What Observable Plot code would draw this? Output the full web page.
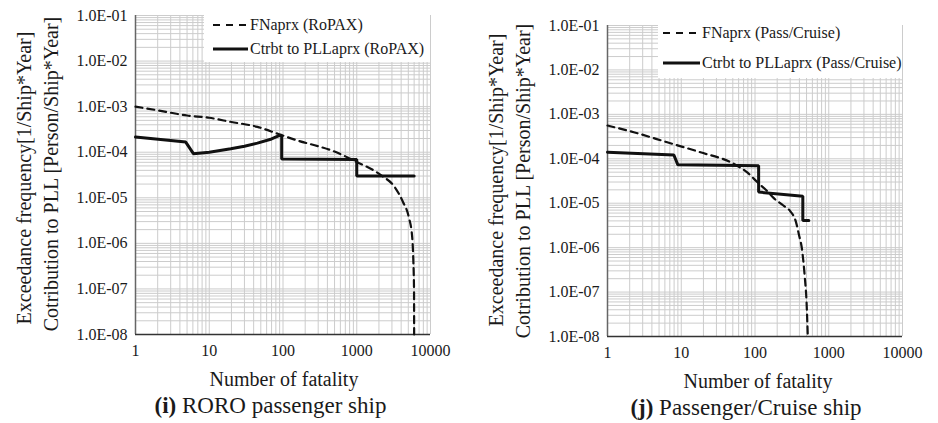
<!DOCTYPE html>
<html><head><meta charset="utf-8">
<script src="https://cdn.jsdelivr.net/npm/d3@7"></script>
<script src="https://cdn.jsdelivr.net/npm/@observablehq/plot@0.6"></script>
<style>
body{margin:0;background:#fff;}
#wrap{position:relative;width:938px;height:423px;}
.panel{position:absolute;top:0;}
</style></head><body><div id="wrap"></div>
<script>
// ---- tick values / labels ----
const xTicks = [1, 10, 100, 1000, 10000];
const xTickLabels = ["1", "10", "100", "1000", "10000"];
const yTicks = [1e-8, 1e-7, 1e-6, 1e-5, 1e-4, 1e-3, 1e-2, 1e-1];
const yTickLabels = ["1.0E-08", "1.0E-07", "1.0E-06", "1.0E-05", "1.0E-04", "1.0E-03", "1.0E-02", "1.0E-01"];

// ---- (i) RORO passenger ship ----
const roFnX = [1, 2, 5, 10, 20, 45, 85, 158, 300, 450, 985, 2150, 3270, 4250, 5070, 5640, 5850, 5980, 6000];
const roFnY = [1.0e-3, 8.3e-4, 6.4e-4, 5.7e-4, 4.6e-4, 3.6e-4, 2.54e-4, 1.8e-4, 1.35e-4, 1.1e-4, 6.2e-5, 3.1e-5, 1.72e-5, 8.0e-6, 3.8e-6, 1.4e-6, 4.2e-7, 9.3e-8, 1e-8];
const roPlX = [1, 4.8, 6.1, 10, 19.6, 30, 45, 70, 90, 96, 96, 1000, 1000, 6000];
const roPlY = [2.15e-4, 1.67e-4, 9.3e-5, 1.0e-4, 1.19e-4, 1.35e-4, 1.58e-4, 1.95e-4, 2.33e-4, 2.35e-4, 7.1e-5, 6.9e-5, 3.0e-5, 3.0e-5];

// ---- (j) Passenger/Cruise ship ----
const pcFnX = [1, 2.27, 6.45, 18.2, 51.6, 80, 107, 150, 180, 240, 303, 354, 393, 436, 474, 499, 520];
const pcFnY = [5.6e-4, 3.96e-4, 2.35e-4, 1.4e-4, 7.7e-5, 4.8e-5, 3.0e-5, 1.8e-5, 1.3e-5, 9.0e-6, 6.5e-6, 4.1e-6, 2.0e-6, 8.6e-7, 2.1e-7, 6.4e-8, 1e-8];
const pcPlX = [1, 7.94, 9.0, 112, 112, 445, 445, 537];
const pcPlY = [1.4e-4, 1.22e-4, 7.3e-5, 7.0e-5, 1.78e-5, 1.43e-5, 4.1e-6, 4.1e-6];

const legendRo = ["FNaprx (RoPAX)", "Ctrbt to PLLaprx (RoPAX)"];
const legendPc = ["FNaprx (Pass/Cruise)", "Ctrbt to PLLaprx (Pass/Cruise)"];
const yTitle = ["Exceedance frequency[1/Ship*Year]", "Cotribution to PLL [Person/Ship*Year]"];
const xTitle = "Number of fatality";

const FONT = '"Liberation Serif", "Times New Roman", serif';
const TXT = "#1a1a1a";

// log grid positions (1..9 per decade)
const xGrid = xTicks.slice(0, -1).flatMap(d => d3.range(1, 10).map(m => m * d)).concat([10000]);
const yGrid = yTicks.slice(0, -1).flatMap(d => d3.range(1, 10).map(m => m * d)).concat([1e-1]);

function panel(cfg) {
  const fn = cfg.fnX.map((x, i) => ({x, y: cfg.fnY[i]}));
  const pl = cfg.plX.map((x, i) => ({x, y: cfg.plY[i]}));
  const svg = Plot.plot({
    width: cfg.width, height: 423,
    marginLeft: cfg.ml, marginRight: cfg.mr, marginTop: cfg.mt, marginBottom: cfg.mb,
    style: {fontFamily: FONT, background: "transparent", color: TXT},
    x: {type: "log", domain: [1, 10000], label: null},
    y: {type: "log", domain: [1e-8, 1e-1], label: null},
    marks: [
      Plot.gridX(xGrid, {stroke: "#cccccc", strokeOpacity: 1, strokeWidth: 1}),
      Plot.gridY(yGrid, {stroke: "#cccccc", strokeOpacity: 1, strokeWidth: 1}),
      Plot.ruleX([1], {stroke: "#666", strokeWidth: 1.5}),
      Plot.ruleY([1e-8], {stroke: "#333", strokeWidth: 1.5}),
      Plot.axisX(xTicks, {tickSize: 0, tickPadding: 10, fontSize: 16, fill: TXT,
        tickFormat: d => xTickLabels[xTicks.indexOf(d)]}),
      Plot.axisY(yTicks, {tickSize: 0, tickPadding: 8, fontSize: 16, fill: TXT,
        tickFormat: d => yTickLabels[yTicks.indexOf(d)]}),
      Plot.line(fn, {x: "x", y: "y", stroke: "#111", strokeWidth: 2.2, strokeDasharray: "7,5", curve: "monotone-x"}),
      Plot.line(pl, {x: "x", y: "y", stroke: "#111", strokeWidth: 3, strokeLinejoin: "miter"})
    ]
  });
  const s = d3.select(svg);
  // legend
  const L = cfg.legend;
  s.append("rect").attr("x", L.x0).attr("y", L.y0).attr("width", L.x1 - L.x0).attr("height", L.y1 - L.y0).attr("fill", "#fff");
  s.append("line").attr("x1", L.lx0).attr("x2", L.lx1).attr("y1", L.ly[0]).attr("y2", L.ly[0])
    .attr("stroke", "#111").attr("stroke-width", 2).attr("stroke-dasharray", "7,6");
  s.append("line").attr("x1", L.lx0).attr("x2", L.lx1).attr("y1", L.ly[1]).attr("y2", L.ly[1])
    .attr("stroke", "#111").attr("stroke-width", 3);
  cfg.legendText.forEach((t, i) => {
    s.append("text").attr("x", L.tx).attr("y", L.ly[i] + 4.5).attr("text-anchor", "start")
      .attr("font-family", FONT).attr("font-size", 16).attr("fill", TXT).text(t);
  });
  // y titles
  yTitle.forEach((t, i) => {
    s.append("text").attr("transform", `translate(${cfg.yt[i][0]},${cfg.yt[i][1]}) rotate(-90)`)
      .attr("text-anchor", "middle").attr("font-family", FONT).attr("font-size", 20).attr("fill", TXT).text(t);
  });
  // x title
  s.append("text").attr("x", cfg.xt[0]).attr("y", cfg.xt[1]).attr("text-anchor", "middle")
    .attr("font-family", FONT).attr("font-size", 20).attr("fill", TXT).text(xTitle);
  // caption
  const c = s.append("text").attr("x", cfg.cap[0]).attr("y", cfg.cap[1]).attr("text-anchor", "middle")
    .attr("font-family", FONT).attr("font-size", 23).attr("fill", TXT);
  c.append("tspan").attr("font-weight", "bold").text(cfg.capLetter);
  c.append("tspan").text(" " + cfg.capText);
  const div = document.createElement("div");
  div.className = "panel";
  div.style.left = cfg.left + "px";
  div.appendChild(svg);
  document.getElementById("wrap").appendChild(div);
}

panel({
  left: 0, width: 470, ml: 135, mr: 40, mt: 15, mb: 89,
  fnX: roFnX, fnY: roFnY, plX: roPlX, plY: roPlY,
  legend: {x0: 204, x1: 430, y0: 15, y1: 62, lx0: 213, lx1: 248, tx: 250, ly: [25, 49]},
  legendText: legendRo,
  yt: [[31, 178], [58, 174]],
  xt: [284, 386],
  cap: [270.5, 413], capLetter: "(i)", capText: "RORO passenger ship"
});
panel({
  left: 470, width: 468, ml: 137, mr: 36, mt: 25, mb: 87,
  fnX: pcFnX, fnY: pcFnY, plX: pcPlX, plY: pcPlY,
  legend: {x0: 188, x1: 432, y0: 25, y1: 78, lx0: 193, lx1: 230, tx: 232, ly: [33, 63]},
  legendText: legendPc,
  yt: [[33, 180], [60, 181]],
  xt: [288, 388],
  cap: [276, 415], capLetter: "(j)", capText: "Passenger/Cruise ship"
});
</script></body></html>
